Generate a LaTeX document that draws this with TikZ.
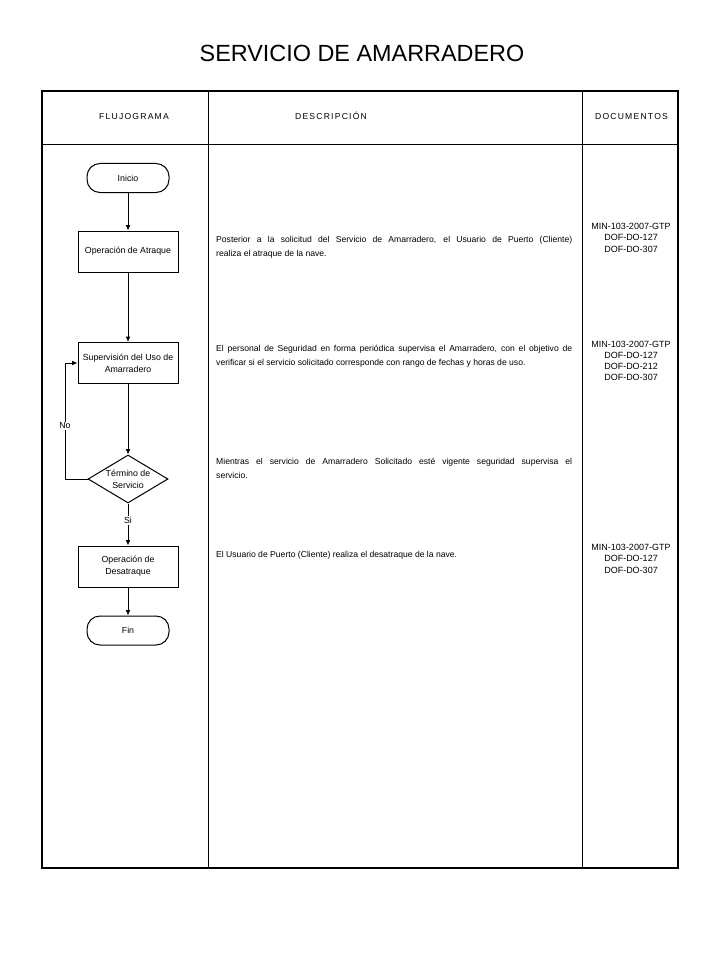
\documentclass[tikz,border=0pt]{standalone}
\usepackage{fontspec}
\setmainfont{Liberation Sans}
\usepackage{tikz}
\usetikzlibrary{shapes.geometric,arrows.meta,positioning}
\tikzstyle{startstop} = [rectangle, rounded corners=13pt, minimum width=82pt, minimum height=29pt, draw=black, line width=1pt, font=\fontsize{8.8}{12}\selectfont]
\tikzstyle{process} = [rectangle, minimum width=100pt, minimum height=41pt, draw=black, line width=1pt, align=center, font=\fontsize{8.8}{12}\selectfont]
\tikzstyle{decision} = [diamond, minimum width=80pt, minimum height=48pt, inner sep=0pt, shape aspect=1.67, draw=black, line width=1pt, align=center, font=\fontsize{8.8}{12}\selectfont]
\tikzstyle{arrow} = [line width=1pt,-{Latex[length=5.5pt,width=5pt]}]
\tikzstyle{header} = [anchor=base, inner sep=0pt, font=\fontsize{8.6}{10}\selectfont\addfontfeature{LetterSpace=14}]
\tikzstyle{desc} = [anchor=base west, inner sep=0pt, text width=356pt, align=justify, font=\fontsize{8.6}{13.5}\selectfont]
\tikzstyle{docs} = [anchor=base, inner sep=0pt, text width=96pt, align=center, font=\fontsize{9}{11.3}\selectfont]
\tikzstyle{answer} = [fill=white, inner sep=1pt, font=\fontsize{8.8}{10}\selectfont]

\begin{document}
\begin{tikzpicture}[x=1pt,y=-1pt]
\useasboundingbox[fill=white] (0,0) rectangle (720,960);
\node (title) [anchor=base, inner sep=0pt, font=\fontsize{23.4}{26}\selectfont] at (362,61.4) {SERVICIO DE AMARRADERO};
\draw[line width=1.6pt] (42,91) rectangle (678,868);
\draw[line width=1pt] (42,145) -- (678,145);
\draw[line width=1pt] (208,91) -- (208,868);
\draw[line width=1pt] (582,91) -- (582,868);
\node (hflujo) [header] at (134,120) {FLUJOGRAMA};
\node (hdesc) [header] at (331,120) {DESCRIPCIÓN};
\node (hdocs) [header] at (631.5,120) {DOCUMENTOS};

\node (inicio) [startstop] at (128,178) {Inicio};
\node (atraque) [process, below of=inicio, node distance=73.5pt] {Operación de Atraque};
\node (superv) [process, below of=atraque, node distance=111.5pt] {Supervisión del Uso de\\Amarradero};
\node (termino) [decision, below of=superv, node distance=116pt] {Término de\\Servicio};
\node (desatraque) [process, below of=termino, node distance=87.5pt] {Operación de\\Desatraque};
\node (fin) [startstop, below of=desatraque, node distance=64pt] {Fin};
\coordinate (loop) at (65,479);

\draw[arrow] (inicio) -- (atraque);
\draw[arrow] (atraque) -- (superv);
\draw[arrow] (superv) -- (termino);
\draw[arrow] (termino) -- node[answer, pos=0.4] {Si} (desatraque);
\draw[arrow] (desatraque) -- (fin);
\draw[arrow] (termino.west) -- (loop) |- node[answer, pos=0.23] {No} (superv.west);

\node (d1) [desc] at (216,242.5) {Posterior a la solicitud del Servicio de Amarradero, el Usuario de Puerto (Cliente)\linebreak realiza el atraque de la nave.};
\node (d2) [desc] at (216,351.5) {El personal de Seguridad en forma periódica supervisa el Amarradero, con el objetivo de\linebreak verificar si el servicio solicitado corresponde con rango de fechas y horas de uso.};
\node (d3) [desc] at (216,464.5) {Mientras el servicio de Amarradero Solicitado esté vigente seguridad supervisa el\linebreak servicio.};
\node (d4) [desc] at (216,557.5) {El Usuario de Puerto (Cliente) realiza el desatraque de la nave.};

\node (doc1) [docs] at (631,229.5) {MIN-103-2007-GTP\\DOF-DO-127\\DOF-DO-307};
\node (doc2) [docs] at (631,347) {MIN-103-2007-GTP\\DOF-DO-127\\DOF-DO-212\\DOF-DO-307};
\node (doc3) [docs] at (631,550.5) {MIN-103-2007-GTP\\DOF-DO-127\\DOF-DO-307};
\end{tikzpicture}
\end{document}
